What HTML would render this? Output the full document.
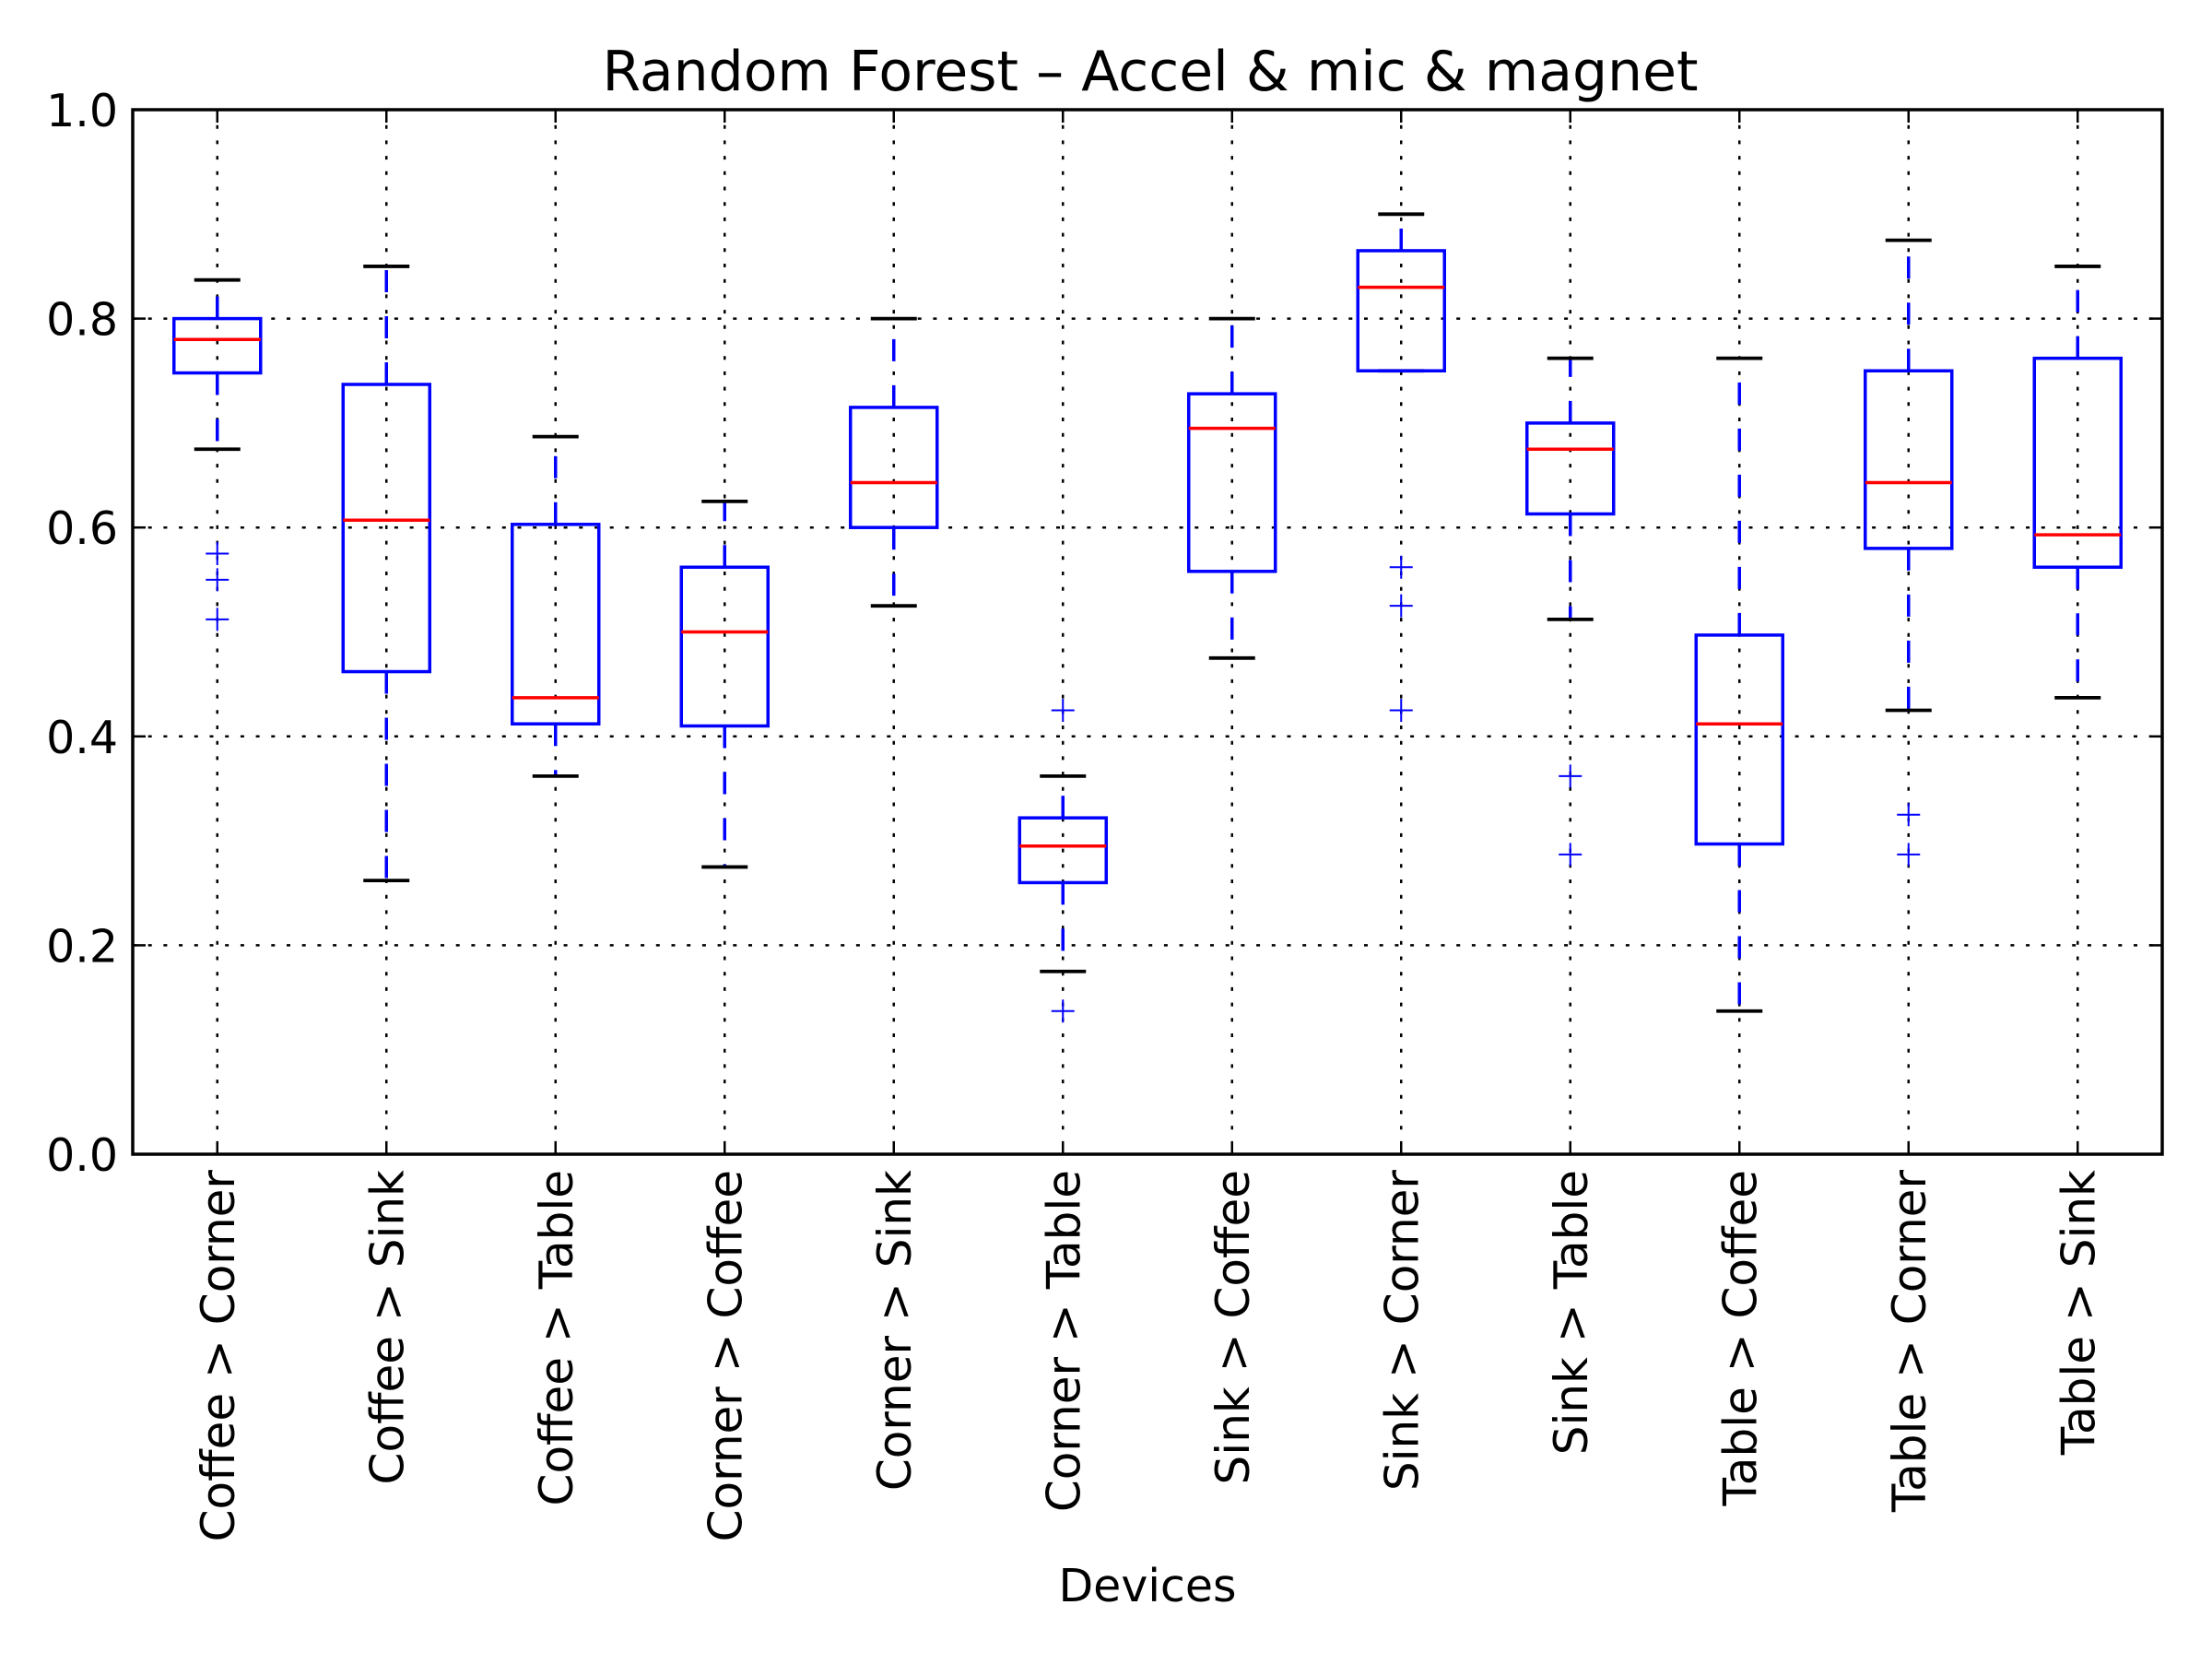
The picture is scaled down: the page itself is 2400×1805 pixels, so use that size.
<!DOCTYPE html>
<html><head><meta charset="utf-8"><style>
html,body{margin:0;padding:0;background:#fff}
svg text{font-family:"DejaVu Sans","Liberation Sans",sans-serif;fill:#000}
</style></head><body>
<svg id="chart" width="2400" height="1800" viewBox="0 0 2400 1800" xmlns="http://www.w3.org/2000/svg">
<rect width="2400" height="1800" fill="#fff"/>
<g id="grid"></g>
<g id="boxes"></g>
<rect x="144" y="119" width="2202" height="1133" fill="none" stroke="#000" stroke-width="3.5"/>
<g id="ticks"></g>
<text x="1248" y="98" font-size="60" text-anchor="middle">Random Forest – Accel &amp; mic &amp; magnet</text>
<text x="1245" y="1737" font-size="49" text-anchor="middle">Devices</text>
</svg>
<script>
const categories=["Coffee > Corner","Coffee > Sink","Coffee > Table","Corner > Coffee","Corner > Sink","Corner > Table","Sink > Coffee","Sink > Corner","Sink > Table","Table > Coffee","Table > Corner","Table > Sink"];
const whiskerLow=[0.675,0.262,0.362,0.275,0.525,0.175,0.475,0.75,0.512,0.137,0.425,0.437];
const q1=[0.748,0.462,0.412,0.41,0.60,0.26,0.558,0.75,0.613,0.297,0.58,0.562];
const medians=[0.78,0.607,0.437,0.50,0.643,0.295,0.695,0.83,0.675,0.412,0.643,0.593];
const q3=[0.80,0.737,0.603,0.562,0.715,0.322,0.728,0.865,0.70,0.497,0.75,0.762];
const whiskerHigh=[0.837,0.85,0.687,0.625,0.80,0.362,0.80,0.90,0.762,0.762,0.875,0.85];
const fliers=[[0.575,0.55,0.512],[],[],[],[],[0.425,0.137],[],[0.562,0.525,0.425],[0.362,0.287],[],[0.325,0.287],[]];
const yTicks=[0,0.2,0.4,0.6,0.8,1.0];
const yTickLabels=["0.0","0.2","0.4","0.6","0.8","1.0"];

const L=144,R=2346,T=119,B=1252;
const step=(R-L)/categories.length;
const xPos=i=>L+step*(i+0.5);
const yPos=v=>B-(v-0)/(1-0)*(B-T);
const NS="http://www.w3.org/2000/svg";
function mk(tag,attrs,parent){const e=document.createElementNS(NS,tag);for(const k in attrs)e.setAttribute(k,attrs[k]);parent.appendChild(e);return e;}
const grid=document.getElementById('grid'),boxes=document.getElementById('boxes'),ticks=document.getElementById('ticks'),svg=document.getElementById('chart');

yTicks.forEach((v,i)=>{
  const y=yPos(v);
  if(v>0&&v<1){const g=mk('line',{x1:L,x2:R,y1:y,y2:y,stroke:'#000','stroke-width':2.5,'stroke-dasharray':'4 12.7'},grid);
  
  }
  const t1=mk('line',{x1:L,x2:L+14,y1:y,y2:y,stroke:'#000','stroke-width':2.5},ticks);
  
  
  const t2=mk('line',{x1:R,x2:R-14,y1:y,y2:y,stroke:'#000','stroke-width':2.5},ticks);
  
  
  const tx=mk('text',{x:L-16,y:y+18,'font-size':49,'text-anchor':'end'},svg);
  tx.textContent=yTickLabels[i];
  
  
});

categories.forEach((c,i)=>{
  const x=xPos(i);
  const g=mk('line',{x1:x,x2:x,y1:T,y2:B,stroke:'#000','stroke-width':2.5,'stroke-dasharray':'4 12.7'},grid);
  
  
  const t1=mk('line',{x1:x,x2:x,y1:B,y2:B-14,stroke:'#000','stroke-width':2.5},ticks);
  
  
  const t2=mk('line',{x1:x,x2:x,y1:T,y2:T+14,stroke:'#000','stroke-width':2.5},ticks);
  
  
  const tx=mk('text',{x:0,y:0,'font-size':50,'text-anchor':'end',transform:`translate(${x+18},${B+17}) rotate(-90)`},svg);
  tx.textContent=c;
  
  

  const grp=mk('g',{},boxes);
  
  
  const bw=94,cw=50;
  const w1=mk('line',{x1:x,x2:x,y1:yPos(q3[i]),y2:yPos(whiskerHigh[i]),stroke:'#00f','stroke-width':3.5,'stroke-dasharray':'24 26'},grp);
  
  
  const w2=mk('line',{x1:x,x2:x,y1:yPos(q1[i]),y2:yPos(whiskerLow[i]),stroke:'#00f','stroke-width':3.5,'stroke-dasharray':'24 26'},grp);
  
  
  const c1=mk('line',{x1:x-cw/2,x2:x+cw/2,y1:yPos(whiskerHigh[i]),y2:yPos(whiskerHigh[i]),stroke:'#000','stroke-width':3.8},grp);
  
  
  const c2=mk('line',{x1:x-cw/2,x2:x+cw/2,y1:yPos(whiskerLow[i]),y2:yPos(whiskerLow[i]),stroke:'#000','stroke-width':3.8},grp);
  
  
  const bx=mk('rect',{x:x-bw/2,y:yPos(q3[i]),width:bw,height:yPos(q1[i])-yPos(q3[i]),fill:'none',stroke:'#00f','stroke-width':3.5},grp);
  
  
  const md=mk('line',{x1:x-bw/2,x2:x+bw/2,y1:yPos(medians[i]),y2:yPos(medians[i]),stroke:'#f00','stroke-width':3.5},grp);
  
  
  fliers[i].forEach(v=>{
    const y=yPos(v);
    const p=mk('path',{d:`M${x-12.5},${y}H${x+12.5}M${x},${y-12.5}V${y+12.5}`,stroke:'#00f','stroke-width':2,fill:'none'},grp);
    
    
  });
});
</script>
</body></html>
